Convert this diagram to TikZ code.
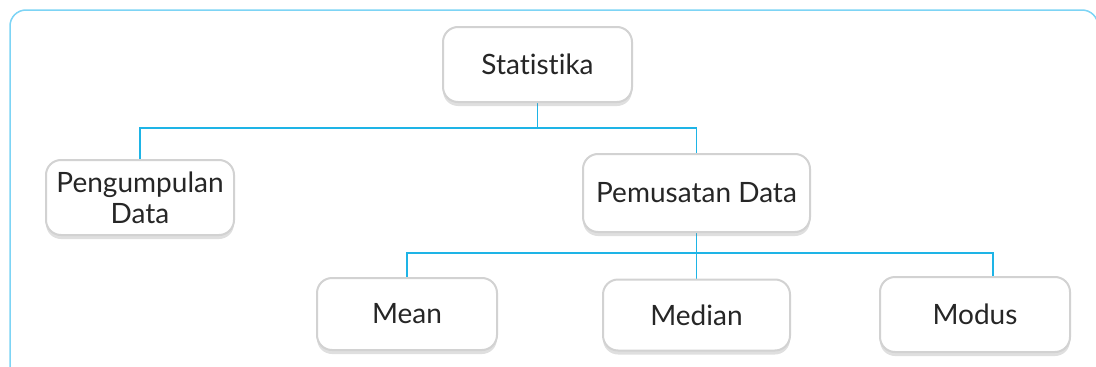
\documentclass[tikz,border=0pt]{standalone}
\usepackage{fontspec}
\setmainfont{Lato}[Ligatures={NoCommon,NoRequired,NoContextual}]
\usetikzlibrary{shadows,backgrounds}
\definecolor{garis}{RGB}{30,180,230}
\definecolor{bingkai}{RGB}{125,212,245}
\tikzstyle{kotak}=[rectangle,rounded corners=15,draw=gray!35,line width=2,fill=white,align=center,text=black!85,font=\fontsize{28}{31}\selectfont,drop shadow={shadow xshift=0,shadow yshift=4,opacity=.25}]
\tikzstyle{cabang}=[draw=garis,line width=1.8]

\begin{document}
\begin{tikzpicture}[x=1pt,y=-1pt]
	\useasboundingbox (0,0) rectangle (1096,367);
	\begin{scope}
		\clip (0,0) rectangle (1096,367);
		\draw[bingkai,line width=1.5,rounded corners=16] (10,10) rectangle (1098,385);
	\end{scope}
	\node[kotak,minimum width=189,minimum height=75]	(statistika)	at (537.5,64.5)	{Statistika};
	\node[kotak,minimum width=188,minimum height=75]	(pengumpulan)	at (140,197.5)	{Pengumpulan\\Data};
	\node[kotak,minimum width=227,minimum height=78]	(pemusatan)		at (696.5,193)	{Pemusatan Data};
	\node[kotak,minimum width=180,minimum height=72]	(mean)		at (407,314)	{Mean};
	\node[kotak,minimum width=187,minimum height=71]	(median)	at (696.5,315)	{Median};
	\node[kotak,minimum width=190,minimum height=75]	(modus)		at (975,314.5)	{Modus};
	\coordinate (cabang1) at (537.5,128);
	\coordinate (cabang2) at (696.5,253);
	\begin{scope}[on background layer]
		\draw[cabang] (statistika.south) -- (cabang1);
		\draw[cabang] (pengumpulan.north) |- (pemusatan.north |- cabang1) -- (pemusatan.north);
		\draw[cabang] (pemusatan.south) -- (median.north);
		\draw[cabang] (mean.north) |- (cabang2) -| ([xshift=18]modus.north);
	\end{scope}
\end{tikzpicture}
\end{document}
